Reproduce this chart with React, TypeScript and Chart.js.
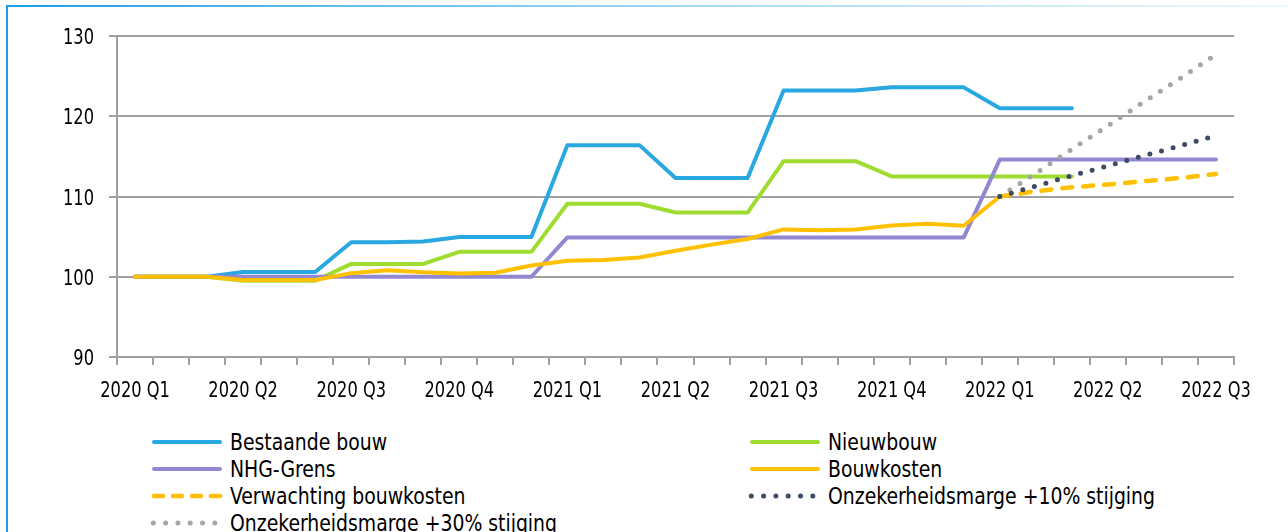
import React, { useEffect, useRef } from "react";
import { Chart, registerables } from "chart.js";

Chart.register(...registerables);

const months: string[] = [
  "jan 2020", "feb 2020", "mrt 2020", "apr 2020", "mei 2020", "jun 2020",
  "jul 2020", "aug 2020", "sep 2020", "okt 2020", "nov 2020", "dec 2020",
  "jan 2021", "feb 2021", "mrt 2021", "apr 2021", "mei 2021", "jun 2021",
  "jul 2021", "aug 2021", "sep 2021", "okt 2021", "nov 2021", "dec 2021",
  "jan 2022", "feb 2022", "mrt 2022", "apr 2022", "mei 2022", "jun 2022",
  "jul 2022",
];

const quarterLabels: string[] = [
  "2020 Q1", "2020 Q2", "2020 Q3", "2020 Q4",
  "2021 Q1", "2021 Q2", "2021 Q3", "2021 Q4",
  "2022 Q1", "2022 Q2", "2022 Q3",
];

const bestaandeBouw: (number | null)[] = [
  100, 100, 100, 100.6, 100.6, 100.6, 104.3, 104.3, 104.4, 104.95, 104.95, 104.95,
  116.4, 116.4, 116.4, 112.3, 112.3, 112.3, 123.2, 123.2, 123.2, 123.6, 123.6, 123.6,
  121.0, 121.0, 121.0, null, null, null, null,
];

const nieuwbouw: (number | null)[] = [
  100, 100, 100, 99.5, 99.5, 99.5, 101.6, 101.6, 101.6, 103.1, 103.1, 103.1,
  109.1, 109.1, 109.1, 108.0, 108.0, 108.0, 114.4, 114.4, 114.4, 112.5, 112.5, 112.5,
  112.5, 112.5, 112.5, null, null, null, null,
];

const nhgGrens: (number | null)[] = [
  100, 100, 100, 100, 100, 100, 100, 100, 100, 100, 100, 100,
  104.9, 104.9, 104.9, 104.9, 104.9, 104.9, 104.9, 104.9, 104.9, 104.9, 104.9, 104.9,
  114.6, 114.6, 114.6, 114.6, 114.6, 114.6, 114.6,
];

const bouwkosten: (number | null)[] = [
  100, 100, 100, 99.6, 99.6, 99.6, 100.45, 100.8, 100.55, 100.4, 100.5, 101.4,
  102.0, 102.1, 102.4, 103.25, 104.0, 104.7, 105.9, 105.8, 105.9, 106.4, 106.6, 106.35,
  110.0, null, null, null, null, null, null,
];

const verwachtingBouwkosten: (number | null)[] = [
  null, null, null, null, null, null, null, null, null, null, null, null,
  null, null, null, null, null, null, null, null, null, null, null, null,
  110.0, 110.65, 111.15, 111.5, 111.9, 112.3, 112.8,
];

const marge10: (number | null)[] = [
  null, null, null, null, null, null, null, null, null, null, null, null,
  null, null, null, null, null, null, null, null, null, null, null, null,
  110.0, 111.3, 112.6, 113.8, 115.1, 116.3, 117.6,
];

const marge30: (number | null)[] = [
  null, null, null, null, null, null, null, null, null, null, null, null,
  null, null, null, null, null, null, null, null, null, null, null, null,
  110.0, 112.9, 115.9, 118.8, 121.8, 124.7, 127.7,
];

const FONT = "'DejaVu Sans Condensed', 'DejaVu Sans', sans-serif";
const AXIS_FONT_SIZE = 22;
const AXIS_SCALE_X = 0.82;
const LEGEND_SCALE_X = 0.91;

const C_BLUE = "#29a7e0";
const C_GREEN = "#9edd30";
const C_PURPLE = "#9288d2";
const C_ORANGE = "#ffc000";
const C_NAVY = "#3d4a63";
const C_GREY = "#a6a6a6";
const C_AXIS = "#a0a0a0";

type LegendItem = { label: string; color: string; kind: "solid" | "dash" | "dot" };

const legendItems: LegendItem[] = [
  { label: "Bestaande bouw", color: C_BLUE, kind: "solid" },
  { label: "Nieuwbouw", color: C_GREEN, kind: "solid" },
  { label: "NHG-Grens", color: C_PURPLE, kind: "solid" },
  { label: "Bouwkosten", color: C_ORANGE, kind: "solid" },
  { label: "Verwachting bouwkosten", color: C_ORANGE, kind: "dash" },
  { label: "Onzekerheidsmarge +10% stijging", color: C_NAVY, kind: "dot" },
  { label: "Onzekerheidsmarge +30% stijging", color: C_GREY, kind: "dot" },
];

function Sample({ item }: { item: LegendItem }) {
  if (item.kind === "solid") {
    return (
      <svg width={74} height={10} style={{ display: "block", flex: "none" }}>
        <line x1={4} y1={5} x2={70} y2={5} stroke={item.color} strokeWidth={4} strokeLinecap="round" />
      </svg>
    );
  }
  if (item.kind === "dash") {
    return (
      <svg width={74} height={10} style={{ display: "block", flex: "none" }}>
        <line x1={4} y1={5} x2={70} y2={5} stroke={item.color} strokeWidth={4.5} strokeLinecap="round" strokeDasharray="9 10" />
      </svg>
    );
  }
  return (
    <svg width={74} height={10} style={{ display: "block", flex: "none" }}>
      <line x1={3.3} y1={5} x2={67} y2={5} stroke={item.color} strokeWidth={5} strokeLinecap="round" strokeDasharray="0 12.3" />
    </svg>
  );
}

// Draws the scales' own tick labels in a horizontally condensed form.
const condensedTicks = {
  id: "condensedTicks",
  afterDraw(chart: any) {
    const ctx: CanvasRenderingContext2D = chart.ctx;
    const xs = chart.scales.x;
    const ys = chart.scales.y;
    ctx.save();
    ctx.fillStyle = "#000";
    ctx.font = `${AXIS_FONT_SIZE}px ${FONT}`;
    ctx.textBaseline = "alphabetic";

    ctx.textAlign = "right";
    const yLabelRight = chart.chartArea.left - 8 - 15;
    ys.ticks.forEach((t: any) => {
      const y = ys.getPixelForValue(t.value);
      ctx.save();
      ctx.translate(yLabelRight, y + 8);
      ctx.scale(AXIS_SCALE_X, 1);
      ctx.fillText(String(t.label), 0, 0);
      ctx.restore();
    });

    ctx.textAlign = "center";
    const xBase = xs.top + 40;
    xs.ticks.forEach((t: any, i: number) => {
      const lab = t.label;
      if (!lab) return;
      const x = xs.getPixelForTick(i);
      ctx.save();
      ctx.translate(x, xBase);
      ctx.scale(AXIS_SCALE_X, 1);
      ctx.fillText(String(lab), 0, 0);
      ctx.restore();
    });
    ctx.restore();
  },
};

export default function App() {
  const ref = useRef<HTMLCanvasElement | null>(null);

  useEffect(() => {
    if (!ref.current) return;
    const base = {
      pointRadius: 0,
      pointHoverRadius: 0,
      tension: 0,
      fill: false,
      spanGaps: false,
      borderJoinStyle: "round" as const,
    };
    const chart = new Chart(ref.current, {
      type: "line",
      data: {
        labels: months,
        datasets: [
          { ...base, label: "Bestaande bouw", data: bestaandeBouw, borderColor: C_BLUE, borderWidth: 4, borderCapStyle: "round", order: 5 },
          { ...base, label: "Nieuwbouw", data: nieuwbouw, borderColor: C_GREEN, borderWidth: 4, borderCapStyle: "round", order: 6 },
          { ...base, label: "NHG-Grens", data: nhgGrens, borderColor: C_PURPLE, borderWidth: 4, borderCapStyle: "round", order: 4 },
          { ...base, label: "Bouwkosten", data: bouwkosten, borderColor: C_ORANGE, borderWidth: 4, borderCapStyle: "round", order: 3 },
          { ...base, label: "Verwachting bouwkosten", data: verwachtingBouwkosten, borderColor: C_ORANGE, borderWidth: 4.5, borderDash: [10, 11], borderCapStyle: "round", order: 2 },
          { ...base, label: "Onzekerheidsmarge +10% stijging", data: marge10, borderColor: C_NAVY, borderWidth: 5, borderDash: [0, 12], borderCapStyle: "round", order: 0 },
          { ...base, label: "Onzekerheidsmarge +30% stijging", data: marge30, borderColor: C_GREY, borderWidth: 5, borderDash: [0, 12], borderCapStyle: "round", order: 1 },
        ],
      },
      plugins: [condensedTicks],
      options: {
        animation: false,
        responsive: false,
        devicePixelRatio: 1,
        layout: { padding: { top: 36, right: 54, bottom: 0, left: 0 } },
        plugins: {
          legend: { display: false },
          tooltip: { enabled: false },
        },
        events: [],
        scales: {
          x: {
            type: "category",
            offset: true,
            grid: {
              display: true,
              drawOnChartArea: false,
              drawTicks: true,
              tickLength: 8,
              offset: true,
              color: C_AXIS,
              lineWidth: 2,
            },
            border: { display: true, color: C_AXIS, width: 2 },
            ticks: {
              autoSkip: false,
              maxRotation: 0,
              minRotation: 0,
              padding: 6,
              color: "rgba(0,0,0,0)",
              font: { family: FONT, size: AXIS_FONT_SIZE },
              callback: (_v: any, i: number) => (i % 3 === 0 ? quarterLabels[i / 3] : ""),
            },
            afterFit: (s: any) => {
              s.height = 53;
            },
          },
          y: {
            min: 90,
            max: 130,
            grid: {
              color: C_AXIS,
              lineWidth: 2,
              drawTicks: true,
              tickLength: 8,
            },
            border: { display: true, color: C_AXIS, width: 2 },
            ticks: {
              stepSize: 10,
              padding: 15,
              color: "rgba(0,0,0,0)",
              font: { family: FONT, size: AXIS_FONT_SIZE },
            },
            afterFit: (s: any) => {
              s.width = 117;
            },
          },
        },
      },
    });
    return () => chart.destroy();
  }, []);

  const rowsY = [442, 468.5, 495.5, 522.5];
  const colX = [150, 748];

  return (
    <div style={{ position: "fixed", left: 0, top: 0, width: 1288, height: 532, background: "#fff", overflow: "hidden" }}>
      <div style={{ position: "absolute", left: 6, top: 5, width: 2, height: 600, background: "#1b9fe0" }} />
      <div
        style={{
          position: "absolute",
          left: 6,
          top: 5,
          width: 1282,
          height: 2,
          background: "linear-gradient(to right, #1b9fe0 0%, #5dbcea 25%, #a6daf3 55%, #eef8fd 100%)",
        }}
      />
      <canvas ref={ref} width={1288} height={410} style={{ position: "absolute", left: 0, top: 0, width: 1288, height: 410 }} />
      {legendItems.map((item, i) => {
        const row = Math.floor(i / 2);
        const col = i % 2;
        const cy = rowsY[row];
        return (
          <div
            key={item.label}
            style={{
              position: "absolute",
              left: colX[col],
              top: cy - 14,
              height: 28,
              display: "flex",
              alignItems: "center",
              whiteSpace: "nowrap",
            }}
          >
            <Sample item={item} />
            <span
              style={{
                marginLeft: 6,
                display: "inline-block",
                fontFamily: FONT,
                fontSize: 23,
                color: "#000",
                lineHeight: "28px",
                transform: `scaleX(${LEGEND_SCALE_X})`,
                transformOrigin: "left center",
              }}
            >
              {item.label}
            </span>
          </div>
        );
      })}
    </div>
  );
}
